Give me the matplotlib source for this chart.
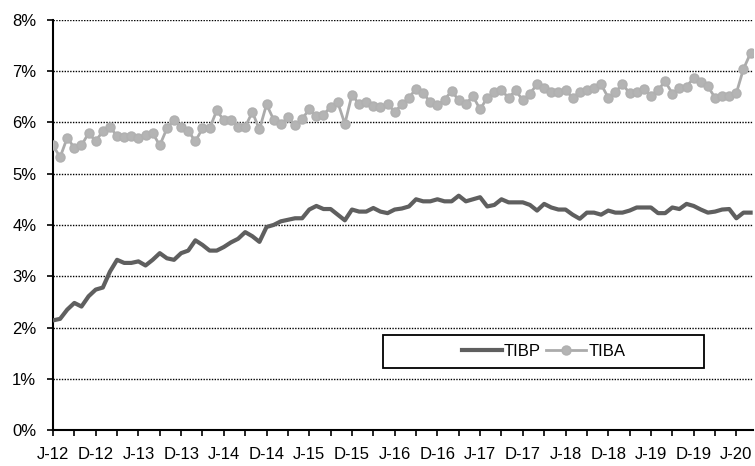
import numpy as np
import matplotlib
matplotlib.use('Agg')
import matplotlib.pyplot as plt
from matplotlib.patches import Rectangle
from matplotlib.ticker import FuncFormatter

plt.rcParams['font.family'] = ['Liberation Sans', 'DejaVu Sans']

# monthly rates (%), June 2012 .. August 2020
tibp = [2.14, 2.17, 2.35, 2.48, 2.41, 2.61, 2.74, 2.78, 3.09, 3.32,
        3.26, 3.26, 3.29, 3.21, 3.32, 3.45, 3.35, 3.32, 3.45, 3.50,
        3.70, 3.61, 3.50, 3.50, 3.57, 3.66, 3.73, 3.86, 3.78, 3.67,
        3.96, 4.00, 4.07, 4.10, 4.13, 4.13, 4.30, 4.37, 4.31, 4.31,
        4.20, 4.09, 4.30, 4.26, 4.26, 4.33, 4.26, 4.23,
        4.30, 4.32, 4.36, 4.50, 4.46, 4.46, 4.50, 4.46, 4.46, 4.57,
        4.46, 4.50, 4.54, 4.36, 4.39, 4.50, 4.44, 4.44, 4.44, 4.39,
        4.28, 4.41, 4.34, 4.30, 4.30, 4.20, 4.12, 4.24, 4.24, 4.20,
        4.28, 4.24, 4.24, 4.28, 4.34, 4.34, 4.34, 4.23, 4.23, 4.34,
        4.31, 4.41, 4.37, 4.30, 4.24, 4.26, 4.30, 4.31, 4.13, 4.24,
        4.24]

tiba = [5.55, 5.32, 5.70, 5.50, 5.55, 5.79, 5.63, 5.83, 5.91, 5.73,
        5.71, 5.73, 5.70, 5.76, 5.79, 5.55, 5.88, 6.05, 5.91, 5.83,
        5.63, 5.88, 5.88, 6.23, 6.04, 6.04, 5.91, 5.91, 6.20, 5.86,
        6.35, 6.05, 5.96, 6.10,
        5.94, 6.07, 6.25, 6.12, 6.15, 6.30, 6.39, 5.97, 6.54, 6.35,
        6.39, 6.31, 6.30, 6.36,
        6.20, 6.35, 6.48, 6.65, 6.57, 6.39, 6.33, 6.44, 6.61, 6.43,
        6.36, 6.51, 6.25, 6.48, 6.59, 6.62, 6.48, 6.62, 6.43, 6.56,
        6.74, 6.67, 6.59, 6.59, 6.62, 6.48, 6.59, 6.62, 6.67, 6.74,
        6.48, 6.59, 6.74, 6.57, 6.59, 6.65, 6.52, 6.63, 6.80, 6.56,
        6.67, 6.69, 6.87, 6.78, 6.70, 6.48, 6.51, 6.51, 6.57, 7.04,
        7.35]

tick_labels = ['J-12', 'D-12', 'J-13', 'D-13', 'J-14', 'D-14', 'J-15', 'D-15',
               'J-16', 'D-16', 'J-17', 'D-17', 'J-18', 'D-18', 'J-19', 'D-19',
               'J-20']

x = np.arange(len(tibp))

fig = plt.figure(figsize=(7.55, 4.66), dpi=100)
ax = fig.add_axes([0.0702, 0.0768, 0.9268, 0.881])

ax.plot(x, tibp, color='#5f5f5f', lw=3, label='TIBP', zorder=3)
ax.plot(x, tiba, color='#ababab', lw=2, marker='o', ms=6.5, mec='#b0b0b0',
        mfc='#b4b4b4', label='TIBA', zorder=3)

ax.set_ylim(0, 8)
ax.set_xlim(0, 98.3)
ax.set_yticks(range(0, 9))
ax.yaxis.set_major_formatter(FuncFormatter(lambda v, p: '%d%%' % v))
for v in range(1, 9):
    ax.axhline(v, color='black', lw=1, ls=(0, (1, 1)), zorder=1)

ax.set_xticks(np.arange(0, len(tibp), 6))
ax.set_xticklabels(tick_labels)
ax.set_xticks(np.arange(0, len(tibp), 3), minor=True)
ax.tick_params(axis='both', which='both', direction='out', length=4,
               width=1.2, labelsize=12, colors='black')
ax.tick_params(axis='x', pad=8)
ax.tick_params(axis='y', pad=8)

for s in ['top', 'right']:
    ax.spines[s].set_visible(False)
for s in ['left', 'bottom']:
    ax.spines[s].set_linewidth(1.5)

# legend box
ax.add_patch(Rectangle((0.471, 0.152), 0.46, 0.08, transform=ax.transAxes,
                       facecolor='white', edgecolor='black', lw=1.3, zorder=5))
leg = ax.legend(loc='center', bbox_to_anchor=(0.701, 0.192), frameon=False,
                ncol=2, fontsize=12, handlelength=2.4, handletextpad=0.15,
                columnspacing=0.3)
leg.set_zorder(6)

fig.savefig('out.png', dpi=100)
